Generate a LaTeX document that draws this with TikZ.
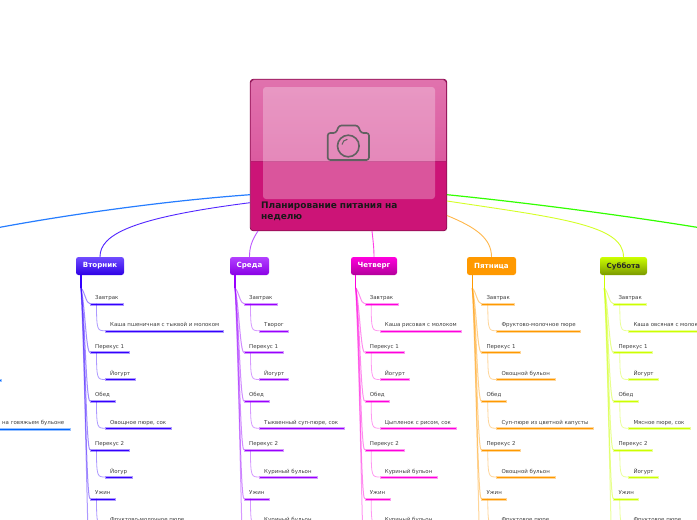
\documentclass[tikz,border=0pt]{standalone}
\usepackage{fontspec}
\setmainfont{DejaVu Sans}
\definecolor{suncol}{HTML}{0066FF}
\definecolor{tuecol}{HTML}{3300FF}
\definecolor{wedcol}{HTML}{9900FF}
\definecolor{thucol}{HTML}{FF00DD}
\definecolor{fricol}{HTML}{FF9900}
\definecolor{satcol}{HTML}{CCFF00}
\definecolor{moncol}{HTML}{33FF00}
\definecolor{rootcol}{HTML}{CC1477}
\tikzset{
  rootbox/.style={draw=rootcol!70!black,fill=rootcol,rounded corners=3pt,line width=.8pt,minimum width=196.5pt,minimum height=151.5pt,inner sep=0pt},
  rootlink/.style={line width=.9pt},
  headbox/.style={rounded corners=2.5pt,minimum height=18pt,inner sep=0pt,font=\fontsize{7.1}{8}\selectfont\bfseries},
  barnode/.style={inner sep=0pt,minimum height=2pt,anchor=west,line width=.35pt},
  mealtext/.style={anchor=base west,inner sep=0pt,text=black!75,font=\fontsize{5.45}{6.5}\selectfont},
}
\newcommand{\daybranch}[6]{
\node[headbox,#1head] (#1box) at (#4,266) {#2};
\coordinate (#1trunk) at (#3,288);
\coordinate (#1off) at (#3+9,600);
\draw[draw=#1col,line width=1.2pt] (#1box.south -| #1trunk) -- (#1trunk);
\draw[draw=#1col,opacity=.4,line width=1pt] (#1trunk) .. controls (#3+4,370) and (#3+6,520) .. (#1off);
\foreach \lone/\lonew/\ltwo/\ltwow [count=\ii] in {#6} {
\pgfmathsetmacro{\ya}{303.7+(\ii-1)*48.75}
\pgfmathsetmacro{\yb}{\ya+27}
\pgfmathsetmacro{\xa}{#3+9}
\pgfmathsetmacro{\xb}{#3+24}
\pgfmathsetmacro{\xl}{#3+15.5}
\node[barnode,fill=#1col,draw=#1col!40,minimum width=\lonew pt] (#1a\ii) at (\xa,\ya) {};
\node[barnode,fill=#1col,draw=#1col!40,minimum width=\ltwow pt] (#1b\ii) at (\xb,\yb) {};
\node[mealtext] (#1ta\ii) at (#3+14,\ya-4.4) {\lone};
\node[mealtext] (#1tb\ii) at (#3+29,\yb-3.8) {\ltwo};
\coordinate (#1c\ii) at (\xl,\ya);
\draw[draw=#1col,opacity=.45,line width=1pt] (#1trunk) .. controls (#3+4,{288+.25*(\ya-288)}) and (#3+5,\ya) .. (#1a\ii.west);
\draw[draw=#1col,opacity=.4,line width=.8pt] (#1c\ii) .. controls (\xl,\yb) and (\xl+1,\yb) .. (#1b\ii.west);
}
}
\begin{document}
\begin{tikzpicture}[x=1pt,y=-1pt,
  tuehead/.style={minimum width=48pt,top color=tuecol!70!white,bottom color=tuecol!90!black,text=white},
  wedhead/.style={minimum width=39pt,top color=wedcol!75!white,bottom color=wedcol!90!black,text=white},
  thuhead/.style={minimum width=46pt,top color=thucol,bottom color=thucol!70!black,text=white},
  frihead/.style={minimum width=49pt,fill=fricol,text=white},
  sathead/.style={minimum width=47pt,top color=satcol,bottom color=satcol!60!black,text=black!85}]
\useasboundingbox (0,0) rectangle (697,520);
\clip (0,0) rectangle (697,520);
\fill[white] (0,0) rectangle (697,520);

% центральный блок
\node[rootbox] (root) at (348.5,155) {};
\fill[top color=rootcol!60!white,bottom color=rootcol!70!white] (251,161) [rounded corners=3pt] -- (251,80) -- (446,80) [sharp corners] -- (446,161) -- cycle;
\fill[white,opacity=.28,rounded corners=3pt] (263,87) rectangle (435,199);
\draw[black!62,line width=1.6pt,rounded corners=2.5pt] (327.7,160) -- (327.7,133) -- (336,133) -- (339,125.5) -- (358,125.5) -- (361,133) -- (369,133) -- (369,160) -- cycle;
\draw[black!62,line width=1.6pt] (348.3,146) circle (10.8);
\draw[black!62,line width=1.1pt] (342,144.5) .. controls (342.5,141.5) and (344.5,139.7) .. (347.3,139.3);
\node[anchor=north west,inner sep=0pt,text width=150pt,align=left,font=\fontsize{9}{11}\selectfont\bfseries,text=black!90] (title) at (261,202) {Планирование питания на неделю};

\coordinate (sunstart) at (250,194.7);
\coordinate (sunend) at (0,227.3);
\coordinate (tuestart) at (250,202.7);
\coordinate (wedstart) at (258,231);
\coordinate (thustart) at (372,231);
\coordinate (fristart) at (447,215.5);
\coordinate (satstart) at (447,201);
\coordinate (monstart) at (447,194.7);
\coordinate (monend) at (697,227.3);

% дни
\daybranch{tue}{Вторник}{81}{100}{48}{Завтрак/33/Каша пшеничная с тыквой и молоком/118,Перекус 1/39/Йогурт/29.7,Обед/24.7/{Овощное пюре, сок}/66.3,Перекус 2/39/Йогур/27,Ужин/25/Фруктово-молочное пюре/85}
\daybranch{wed}{Среда}{235}{249.5}{39}{Завтрак/33/Творог/29.3,Перекус 1/39/Йогурт/29.3,Обед/24.5/{Тыквенный суп-пюре, сок}/85,Перекус 2/39/Куриный бульон/57.7,Ужин/25/Куриный бульон/57.7}
\daybranch{thu}{Четверг}{355.7}{374}{46}{Завтрак/33/Каша рисовая с молоком/81.3,Перекус 1/39/Йогурт/29,Обед/24.5/{Цыпленок с рисом, сок}/76,Перекус 2/39/Куриный бульон/57.3,Ужин/25/Куриный бульон/57.3}
\daybranch{fri}{Пятница}{472.3}{491.5}{49}{Завтрак/33/Фруктово-молочное пюре/84,Перекус 1/39/Овощной бульон/58.7,Обед/24.5/Суп-пюре из цветной капусты/97,Перекус 2/39/Овощной бульон/58.7,Ужин/25/Фруктовое пюре/58}
\daybranch{sat}{Суббота}{604.3}{623.5}{47}{Завтрак/33/Каша овсяная с молоком/90,Перекус 1/39/Йогурт/29.7,Обед/24.5/{Мясное пюре, сок}/61.7,Перекус 2/39/Йогурт/29.7,Ужин/25/Фруктовое пюре/58}

% левая ветка уходит за край
\node[barnode,fill=suncol,draw=suncol!40,minimum width=40pt] (sunb2) at (-39,380) {};
\node[barnode,fill=suncol,draw=suncol!40,minimum width=110pt] (sunb3) at (-40,428.7) {};
\node[mealtext,anchor=base east] (sunt3) at (64.5,424.9) {Суп на говяжьем бульоне};

% связи от центра
\draw[draw=suncol!85!white,line width=1.2pt] (sunstart) .. controls (150,202) and (50,218) .. (sunend);
\draw[draw=tuecol!85!white,rootlink] (tuestart) .. controls (130,218) and (100,235) .. (tuebox.north);
\draw[draw=wedcol!65!white,rootlink] (wedstart) .. controls (252,240) and (249.5,247) .. (wedbox.north);
\draw[draw=thucol!75!white,rootlink] (thustart) .. controls (373,240) and (374,248) .. (thubox.north);
\draw[draw=fricol!70!white,rootlink] (fristart) .. controls (475,227) and (491.5,238) .. (fribox.north);
\draw[draw=satcol!85!white,rootlink] (satstart) .. controls (560,218) and (623.5,225) .. (satbox.north);
\draw[draw=moncol,line width=1.2pt] (monstart) .. controls (540,204) and (640,218) .. (monend);
\end{tikzpicture}
\end{document}
